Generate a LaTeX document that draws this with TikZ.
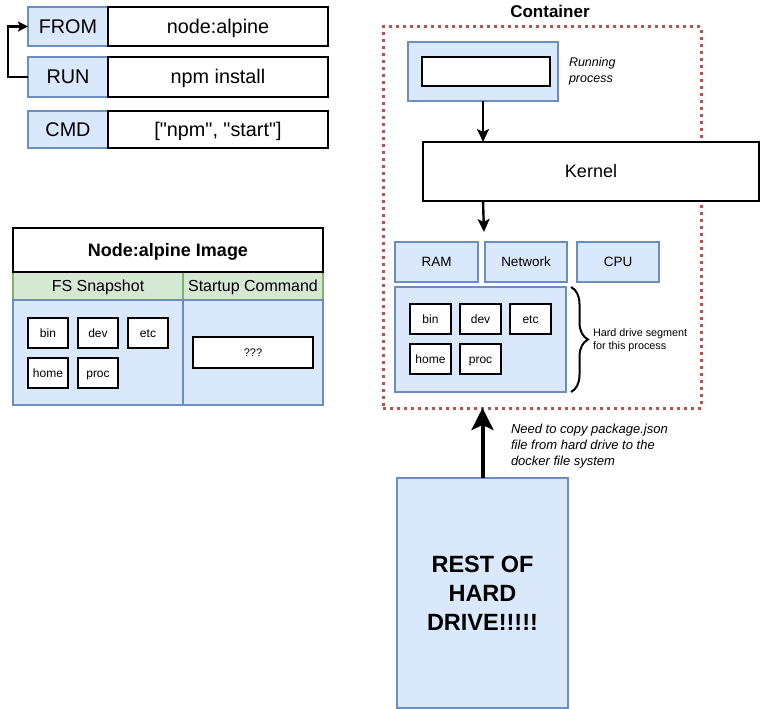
\documentclass[tikz,border=0pt]{standalone}
\usepackage{fontspec}
\setmainfont{Liberation Sans}
\newfontfamily\rawfont{Liberation Sans}
\usetikzlibrary{arrows.meta,decorations.pathreplacing}
\definecolor{bfill}{HTML}{DAE8FC}
\definecolor{bline}{HTML}{6C8EBF}
\definecolor{gfill}{HTML}{D5E8D4}
\definecolor{gline}{HTML}{82B366}
\definecolor{rline}{HTML}{B85450}
\begin{document}
\begin{tikzpicture}[x=1pt,y=-1pt,
  every node/.style={inner sep=0pt,outer sep=0pt},
  bbox/.style={draw=bline,fill=bfill,line width=1.5pt,anchor=north west},
  wbox/.style={draw=black,fill=white,line width=1.6pt,anchor=north west},
  gbox/.style={draw=gline,fill=gfill,line width=1.5pt,anchor=north west},
  arr/.style={line width=2.4pt,-{Stealth[length=13pt,width=12pt,inset=3pt]}},
  bigarr/.style={line width=4pt,-{Stealth[length=22pt,width=22pt,inset=5pt]}},
  t20/.style={text height=13.9pt,text depth=0pt,font=\fontsize{19.8}{23}\selectfont},
  t18/.style={text height=12.6pt,text depth=0pt,font=\fontsize{18}{21}\selectfont},
  t16/.style={text height=11.2pt,text depth=0pt,font=\fontsize{16}{19}\selectfont},
  t14/.style={text height=9.45pt,text depth=0pt,font=\fontsize{13.5}{16}\selectfont},
  t12/.style={text height=8.4pt,text depth=0pt,font=\fontsize{12}{14}\selectfont},
  t11/.style={text height=7.7pt,text depth=0pt,font=\fontsize{11}{13}\selectfont},
  small/.style={wbox,minimum width=40,minimum height=30,t12},
]
\useasboundingbox (0,0) rectangle (760,709);
% Dockerfile table
\node[bbox,minimum width=80,minimum height=39,t20] (from) at (28,7) {FROM};
\node[wbox,minimum width=220,minimum height=39,t20] (fromv) at (108,7) {node:alpine};
\node[bbox,minimum width=80,minimum height=40,t20] (run) at (28,57) {RUN};
\node[wbox,minimum width=220,minimum height=40,t20] (runv) at (108,57) {npm install};
\node[bbox,minimum width=80,minimum height=37,t20] (cmd) at (28,111) {CMD};
\node[wbox,minimum width=220,minimum height=37,t20,font=\rawfont\fontsize{19.8}{23}\selectfont] (cmdv) at (108,111) {["npm", "start"]};
\draw[line width=2.4pt,-{Stealth[length=10pt,width=10pt,inset=2pt]}] (run.west) -- ++(-20,0) |- (from.west);
% Image table
\node[gbox,minimum width=170,minimum height=28,t16] (fs) at (13,272) {FS Snapshot};
\node[gbox,minimum width=140,minimum height=28,t16] (sc) at (183,272) {Startup Command};
\node[bbox,minimum width=170,minimum height=105] (fsb) at (13,300) {};
\node[bbox,minimum width=140,minimum height=105] (scb) at (183,300) {};
\node[wbox,minimum width=310,minimum height=44,t18,font=\bfseries\fontsize{18}{21}\selectfont] (img) at (13,228) {Node:alpine Image};
\node[small] (ibin) at (28,318) {bin};
\node[small] (idev) at (78,318) {dev};
\node[small] (ietc) at (128,318) {etc};
\node[small] (ihome) at (28,358) {home};
\node[small] (iproc) at (78,358) {proc};
\node[wbox,minimum width=120,minimum height=31,t11] (q) at (193,337) {???};
% Container
\node[text height=11.9pt,text depth=0pt,font=\bfseries\fontsize{17}{20}\selectfont] (ctitle) at (550,12) {Container};
\node[draw=rline,line width=3pt,dash pattern=on 3pt off 4pt,minimum width=318,minimum height=381,anchor=north west] (cont) at (383,27) {};
\node[bbox,minimum width=150,minimum height=59] (rp) at (408,42) {};
\node[wbox,minimum width=128,minimum height=29] (rpi) at (422,57) {};
\node[anchor=west,align=left,font=\itshape\fontsize{12.5}{16}\selectfont] (rplabel) at (569,71) {Running\\process};
\node[wbox,minimum width=336,minimum height=59,t18] (kernel) at (423,142) {Kernel};
\draw[arr] (rp.south) -- (rp.south |- kernel.north);
\coordinate (kin) at (484,232);
\draw[arr] (rp.south |- kernel.south) -- (kin);
\node[bbox,minimum width=83,minimum height=40,t14] (ram) at (395,242) {RAM};
\node[bbox,minimum width=82,minimum height=40,t14] (net) at (485,242) {Network};
\node[bbox,minimum width=82,minimum height=40,t14] (cpu) at (577,242) {CPU};
\node[bbox,minimum width=171,minimum height=105] (hd) at (395,287) {};
\node[small,minimum width=41] (cbin) at (410,304) {bin};
\node[small,minimum width=41] (cdev) at (460,304) {dev};
\node[small,minimum width=41] (cetc) at (510,304) {etc};
\node[small,minimum width=41] (chome) at (410,344) {home};
\node[small,minimum width=41] (cproc) at (460,344) {proc};
\coordinate (bt) at (571,287);
\coordinate (bb) at (571,392);
\draw[line width=2pt,decorate,decoration={brace,amplitude=17pt,aspect=0.5}] (bt) -- (bb);
\node[anchor=west,align=left,font=\fontsize{10.8}{13}\selectfont] (hdlabel) at (593,340) {Hard drive segment\\for this process};
% Rest of hard drive
\node[bbox,minimum width=171,minimum height=230,align=center,font=\bfseries\fontsize{23.5}{29}\selectfont] (rest) at (397,478) {REST OF\\HARD\\DRIVE!!!!!};
\draw[bigarr] (rest.north) -- (rest.north |- cont.south);
\node[anchor=north west,align=left,font=\itshape\fontsize{13}{16}\selectfont] (note) at (511,424) {Need to copy package.json\\file from hard drive to the\\docker file system};
\end{tikzpicture}
\end{document}
